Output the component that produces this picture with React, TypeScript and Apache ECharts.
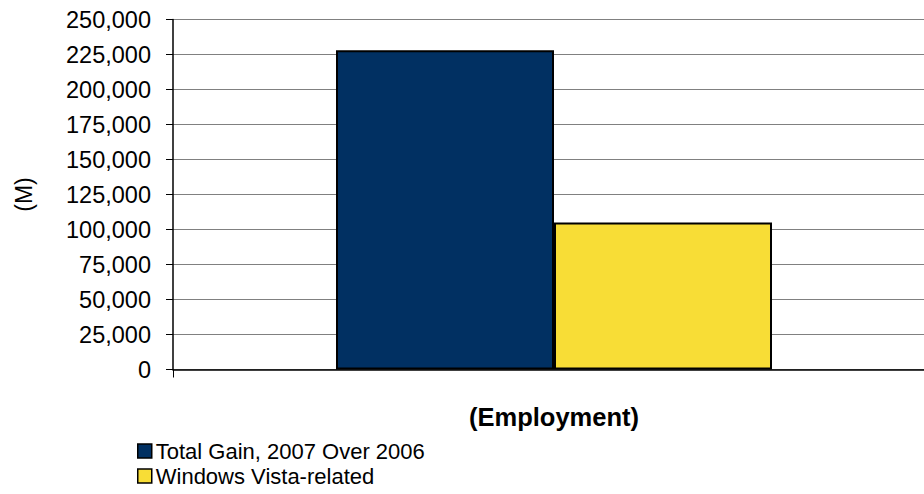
import React, { useEffect, useRef } from "react";
import * as echarts from "echarts";

const categories = ["Employment"];
const seriesNames = ["Total Gain, 2007 Over 2006", "Windows Vista-related"];
const totalGain = [228000];
const vistaRelated = [105000];
const seriesColors = ["#013062", "#F8DD36"];
const yMin = 0;
const yMax = 250000;
const yInterval = 25000;
const FONT = "'Liberation Sans', Arial, sans-serif";

export default function App() {
  const ref = useRef<HTMLDivElement>(null);
  useEffect(() => {
    document.body.style.margin = "0";
    if (!ref.current) return;
    const chart = echarts.init(ref.current, undefined, { renderer: "svg" });
    const legendItem = (i: number, top: number) => ({
      orient: "vertical",
      left: 137,
      top,
      padding: 0,
      itemWidth: 14,
      itemHeight: 14,
      itemGap: 0,
      icon: "rect",
      selectedMode: false,
      textStyle: { fontFamily: FONT, fontSize: 22, lineHeight: 22, color: "#000", padding: [0, 0, 0, -1] },
      data: [
        {
          name: seriesNames[i],
          itemStyle: { color: seriesColors[i], borderColor: "#000", borderWidth: 1.5 },
        },
      ],
    });
    chart.setOption({
      animation: false,
      backgroundColor: "#ffffff",
      textStyle: { fontFamily: FONT },
      grid: { left: 173, top: 19.5, width: 762, height: 350, outerBoundsMode: "none", containLabel: false },
      legend: [legendItem(0, 440), legendItem(1, 465)],
      xAxis: {
        type: "category",
        data: categories,
        name: "(Employment)",
        nameLocation: "middle",
        nameGap: 34,
        nameTextStyle: { fontFamily: FONT, fontSize: 25.5, fontWeight: "bold", color: "#000" },
        axisLine: { show: true, lineStyle: { color: "#000", width: 1.5 } },
        axisTick: { show: true, length: 8, lineStyle: { color: "#000" } },
        axisLabel: { show: false },
        splitLine: { show: false },
      },
      yAxis: {
        type: "value",
        min: yMin,
        max: yMax,
        interval: yInterval,
        name: "(M)",
        nameLocation: "middle",
        nameRotate: 90,
        nameGap: 138,
        nameTextStyle: { fontFamily: FONT, fontSize: 23, color: "#000" },
        axisLine: { show: true, lineStyle: { color: "#000", width: 1.5 } },
        axisTick: { show: true, length: 7, lineStyle: { color: "#000" } },
        axisLabel: {
          fontFamily: FONT,
          fontSize: 23.5,
          color: "#000",
          margin: 22,
          formatter: (v: number) => v.toLocaleString("en-US"),
        },
        splitLine: { show: true, lineStyle: { color: "#808080", width: 1 } },
      },
      series: [
        {
          name: seriesNames[0],
          type: "bar",
          data: totalGain,
          barGap: "0%",
          barWidth: 218,
          itemStyle: { color: seriesColors[0], borderColor: "#000", borderWidth: 2 },
        },
        {
          name: seriesNames[1],
          type: "bar",
          data: vistaRelated,
          barGap: "0%",
          barWidth: 218,
          itemStyle: { color: seriesColors[1], borderColor: "#000", borderWidth: 2 },
        },
      ],
    });
    return () => chart.dispose();
  }, []);
  return <div ref={ref} style={{ width: 924, height: 494 }} />;
}
